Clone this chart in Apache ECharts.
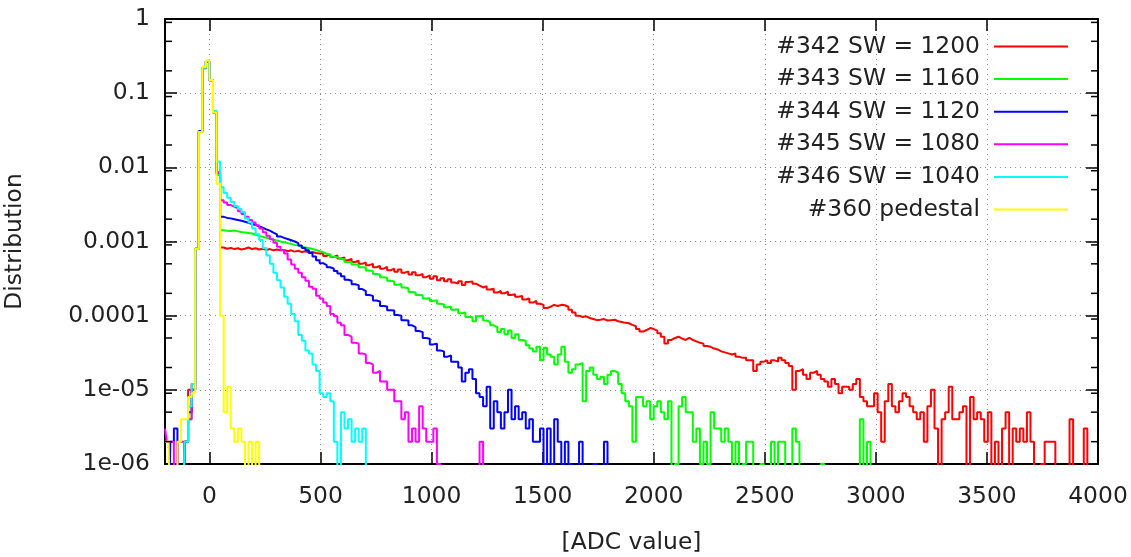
<!DOCTYPE html>
<html>
<head>
<meta charset="utf-8">
<title>ADC distribution</title>
<script src="https://cdn.jsdelivr.net/npm/echarts@6/dist/echarts.min.js"></script>
<style>
  html, body { margin: 0; padding: 0; background: #fff; }
  #chart { width: 1131px; height: 557px; }
</style>
</head>
<body>
<div id="chart"></div>
<script>
// Histogram binning, in ADC units
const BIN_START = -200;   // centre of the first bin
const BIN_WIDTH = 16;

// Distribution per bin, in units of 1e-6 (0 = empty bin)
const run342 = [0,0,0,0,0,0,2,10, 12,800,30000,220000,270000,150000,55000,8000,
  830,800,820,790,810,780,800,830,790,810,
  780,800,770,790,760,780,760,770,740,760,
  730,750,720,740,710,720,700,690,700,640,
  670,620,650,590,610,560,580,530,550,500,
  520,480,500,450,470,430,455,410,430,390,
  420,380,395,360,385,350,365,330,350,315,
  340,300,320,290,310,280,270,290,260,285,
  290,270,255,240,250,225,230,205,215,200,
  210,190,195,180,185,165,170,150,158,145,
  140,127,132,140,135,140,138,132,120,110,
  100,96,98,93,90,87,88,90,86,87,
  88,84,82,80,79,75,72,66,61,64,
  68,66,63,58,52,42,47,50,52,49,
  47,50,47,45,43,42,39,38,36,35,
  33,32,31,30,31,28,27,27,25,25,
  18,22,24,25,23,25,24,27,25,23,
  21,10,18,19,16,14,17,18,16,14,
  13,11,14,12,9,11,11,10,12,14,
  8,7,6,6,9,5,2,7,12,6,
  5,7,9,8,6,5,4,5,2,6,
  10,3,0,4,5,11,4,4,5,6,
  0,8,4,5,4,2,5,0,2,0,
  3,5,0,3,2,3,2,5,2,0,
  0,1,2,2,2,0,0,0,0,4,
  0,0,0,3,0,0,0];

const run343 = [0,0,0,0,0,0,2,4, 10,800,30000,215000,270000,150000,55000,8000,
  1420,1400,1390,1410,1370,1340,1320,1300,1280,1230,
  1190,1160,1120,1100,1060,1030,1000,980,950,930,
  900,880,850,830,810,790,770,740,720,680,
  670,625,615,580,575,530,525,490,485,450,
  445,405,400,365,360,330,325,295,290,262,
  268,240,235,208,205,190,188,170,172,158,
  162,145,142,130,132,120,122,108,110,96,
  95,84,98,100,86,82,74,70,60,66,
  56,63,50,56,47,46,40,36,33,38,
  25,37,30,28,22,30,38,24,17,19,
  22,23,7,18,20,16,14,15,12,16,
  18,17,12,9,7,6,2,8,8,6,
  7,4,6,7,5,4,7,0,1,6,
  8,5,5,2,3,1,2,1,5,3,
  3,2,3,2,0,2,0,1,2,2,
  0,0,1,0,0,2,0,2,2,0,
  0,3,2,0,0,0,0,0,0,1,
  0,0,0,0,0,0,0,0,0,0,
  4,0,2,0];

const run344 = [0,0,2,3,0,0,2,5, 10,800,31000,220000,265000,150000,56000,8500,
  2150,2080,2050,2000,1950,1900,1850,1790,1720,1670,
  1600,1540,1460,1400,1320,1250,1170,1120,1080,1040,
  1000,950,880,820,760,700,630,560,510,480,
  450,430,400,370,340,305,295,265,258,228,
  215,190,185,160,155,135,133,118,117,102,
  100,87,86,74,70,62,60,50,49,41,
  42,34,33,28,29,24,24,20,13,17,
  19,14,9,8,6,11,3,7,5,3,
  5,10,4,6,4,5,3,4,2,2,
  3,1,3,1,4,2,1,2,1,0,
  0,2,0,0,0,1,0,0,2,0];

const run345 = [3,2,2,0,2,2,2,4, 10,800,30000,220000,270000,148000,55000,8500,
  3600,3350,3100,2950,2800,2550,2350,2150,1950,1800,
  1650,1500,1330,1200,1070,960,850,760,690,570,
  490,430,380,330,295,245,230,185,170,150,
  135,105,98,80,74,55,52,43,42,31,
  30,23,22,17,18,13,13,10,10,7,
  7,4,5,2,3,2,6,3,2,2,
  3,1,0,0,0,0,0,0,0,0,
  0,0,0,2,0];

const run346 = [0,0,0,0,0,0,2,6, 12,800,30000,220000,270000,150000,58000,12000,
  5400,4500,3900,3400,3000,2750,2500,2050,1800,1500,
  1250,1050,820,650,500,380,300,240,180,145,
  105,84,55,46,34,31,22,18,9,8,
  9,7,2,0,5,3,4,2,3,2,
  3,0];

const run360 = [2,2,0,0,2,4,4,8, 9,800,30000,225000,275000,150000,55000,6000,
  100,5,11,3,2,3,2,0,2,0,2,0];

const seriesNames = ['#342 SW = 1200', '#343 SW = 1160', '#344 SW = 1120',
                     '#345 SW = 1080', '#346 SW = 1040', '#360 pedestal'];
const seriesColors = ['#ff0000', '#00ff00', '#0000ff', '#ff00ff', '#00ffff', '#ffff00'];

const X_MIN = -200, X_MAX = 4000;
const xTickValues = [0, 500, 1000, 1500, 2000, 2500, 3000, 3500, 4000];
const yTickLabels = ['1e-06', '1e-05', '0.0001', '0.001', '0.01', '0.1', '1']; // by exponent + 6
const yMinorTicks = [2e-6, 5e-6, 9e-6, 2e-5, 5e-5, 9e-5, 2e-4, 5e-4, 9e-4,
                     2e-3, 5e-3, 9e-3, 0.02, 0.05, 0.09, 0.2, 0.5, 0.9];

const FONT = 'DejaVu Sans';
const FONT_SIZE = 23.4;
const TEXT_COLOR = '#222';
const EMPTY = 1e-7;  // empty bins fall below the axis floor

const runs = [run342, run343, run344, run345, run346, run360];

const histSeries = runs.map((vals, i) => ({
  name: seriesNames[i],
  type: 'line',
  step: 'middle',
  showSymbol: false,
  symbol: 'none',
  clip: true,
  data: vals.map((v, k) => [BIN_START + k * BIN_WIDTH, v > 0 ? v * 1e-6 : EMPTY]),
  lineStyle: { width: 2, color: seriesColors[i] },
  itemStyle: { color: seriesColors[i] },
  z: 3
}));

// short inward minor ticks on the left and right frame edges
const minorTickSeries = {
  type: 'custom',
  silent: true,
  clip: false,
  z: 4,
  data: yMinorTicks.map(v => [X_MIN, v]),
  renderItem: function (params, api) {
    const v = api.value(1);
    const pl = api.coord([X_MIN, v]);
    const pr = api.coord([X_MAX, v]);
    const style = { stroke: '#000', lineWidth: 1.5 };
    return {
      type: 'group',
      children: [
        { type: 'line', shape: { x1: pl[0], y1: pl[1], x2: pl[0] + 7, y2: pl[1] }, style },
        { type: 'line', shape: { x1: pr[0] - 7, y1: pr[1], x2: pr[0], y2: pr[1] }, style }
      ]
    };
  }
};

const frameLine = { show: true, onZero: false, lineStyle: { color: '#000', width: 2 } };
const dotted = { show: true, lineStyle: { type: [1, 4], color: '#8a8a8a', width: 1 } };
const textBase = { fontFamily: FONT, fontSize: FONT_SIZE, color: TEXT_COLOR };

const option = {
  animation: false,
  backgroundColor: '#fff',
  grid: { left: 165, right: 33, top: 19, bottom: 93, containLabel: false, outerBoundsMode: 'none' },
  legend: {
    data: seriesNames,
    orient: 'vertical',
    right: 63,
    top: 35,
    align: 'right',
    icon: 'rect',
    itemWidth: 74,
    itemHeight: 2,
    itemGap: 9.6,
    padding: 0,
    selectedMode: false,
    textStyle: Object.assign({}, textBase, { lineHeight: 22, padding: [0, 9, 0, 0] })
  },
  xAxis: [
    {
      type: 'value', min: X_MIN, max: X_MAX, position: 'bottom',
      axisLine: frameLine,
      axisTick: { show: true, inside: true, length: 12, customValues: xTickValues,
                  lineStyle: { color: '#000', width: 1.5 } },
      axisLabel: Object.assign({ customValues: xTickValues, margin: 21,
                                 formatter: v => String(v) }, textBase),
      splitLine: dotted,
      name: '[ADC value]', nameLocation: 'middle', nameGap: 67,
      nameTextStyle: textBase
    },
    {
      type: 'value', min: X_MIN, max: X_MAX, position: 'top',
      axisLine: frameLine,
      axisTick: { show: true, inside: true, length: 12, customValues: xTickValues,
                  lineStyle: { color: '#000', width: 1.5 } },
      axisLabel: { show: false },
      splitLine: { show: false }
    }
  ],
  yAxis: [
    {
      type: 'log', logBase: 10, min: 1e-6, max: 1, position: 'left',
      axisLine: frameLine,
      axisTick: { show: true, inside: true, length: 12, lineStyle: { color: '#000', width: 1.5 } },
      axisLabel: Object.assign({
        margin: 15,
        formatter: v => yTickLabels[Math.round(Math.log10(v)) + 6]
      }, textBase),
      splitLine: dotted,
      name: 'Distribution', nameLocation: 'middle', nameGap: 139,
      nameTextStyle: textBase
    },
    {
      type: 'log', logBase: 10, min: 1e-6, max: 1, position: 'right',
      axisLine: frameLine,
      axisTick: { show: true, inside: true, length: 12, lineStyle: { color: '#000', width: 1.5 } },
      axisLabel: { show: false },
      splitLine: { show: false }
    }
  ],
  series: histSeries.concat([minorTickSeries])
};

const chart = echarts.init(document.getElementById('chart'), null, { renderer: 'canvas' });
chart.setOption(option);
</script>
</body>
</html>
